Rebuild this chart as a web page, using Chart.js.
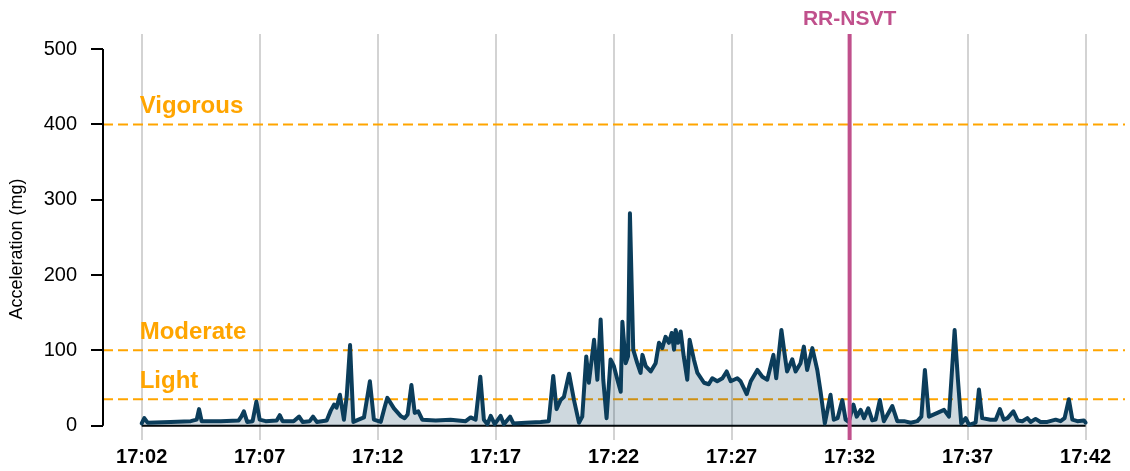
<!DOCTYPE html>
<html>
<head>
<meta charset="utf-8">
<script src="https://cdn.jsdelivr.net/npm/chart.js@4.4.0/dist/chart.umd.min.js"></script>
<style>
  html, body { margin: 0; padding: 0; background: #fff; }
  #wrap { width: 1130px; height: 471px; }
</style>
</head>
<body>
<div id="wrap"><canvas id="myChart" width="1130" height="471"></canvas></div>
<script>
// minutes after 17:02
var minutes = [
  0.00, 0.11, 0.25, 1.23, 2.08, 2.33, 2.43, 2.54, 3.35, 4.11, 4.22, 4.33, 4.47, 4.70, 4.86, 5.00,
  5.25, 5.72, 5.85, 5.97, 6.44, 6.67, 6.82, 7.12, 7.26, 7.42, 7.84, 8.01, 8.15, 8.26, 8.40, 8.57,
  8.69, 8.83, 8.97, 9.19, 9.42, 9.67, 9.84, 10.13, 10.30, 10.41, 10.55, 10.69, 10.97, 11.14, 11.27, 11.43,
  11.57, 11.72, 11.89, 12.46, 13.09, 13.73, 13.94, 14.15, 14.35, 14.50, 14.65, 14.79, 14.96, 15.21,
  15.35, 15.61, 15.75, 16.27, 16.91, 17.25, 17.44, 17.58, 17.75, 17.89, 18.11, 18.32, 18.53, 18.67,
  18.84, 18.95, 19.17, 19.31, 19.45, 19.56, 19.70, 19.87, 20.01, 20.16, 20.30, 20.37, 20.51, 20.61,
  20.69, 20.83, 21.00, 21.14, 21.22, 21.36, 21.57, 21.78, 21.92, 22.06, 22.20, 22.34, 22.46, 22.56,
  22.63, 22.73, 22.84, 22.97, 23.12, 23.22, 23.40, 23.55, 23.83, 24.03, 24.18, 24.39, 24.61, 24.79,
  24.96, 25.24, 25.38, 25.64, 25.81, 26.09, 26.30, 26.51, 26.77, 26.89, 27.11, 27.25, 27.35, 27.57,
  27.71, 27.92, 28.06, 28.20, 28.42, 28.63, 28.77, 28.95, 29.19, 29.33, 29.49, 29.69, 29.83, 29.96,
  30.16, 30.30, 30.47, 30.61, 30.79, 30.96, 31.10, 31.28, 31.45, 31.81, 32.02, 32.31, 32.59, 32.87,
  33.04, 33.19, 33.36, 33.72, 34.00, 34.21, 34.45, 34.59, 34.73, 34.92, 35.06, 35.34, 35.48, 35.62,
  35.97, 36.19, 36.37, 36.53, 36.69, 36.94, 37.12, 37.32, 37.53, 37.67, 37.88, 38.09, 38.38, 38.73,
  38.94, 39.11, 39.29, 39.44, 39.65, 39.93, 40.00
];
var accel = [
  3, 10, 4, 5, 6, 8, 22, 6, 6, 7, 12, 19, 5, 6, 32, 8,
  6, 7, 14, 6, 6, 12, 5, 6, 12, 5, 7, 20, 28, 24, 41, 8,
  40, 107, 5, 8, 11, 59, 8, 5, 25, 37, 30, 23, 13, 10, 15, 54,
  17, 19, 8, 7, 8, 6, 11, 8, 65, 8, 2, 13, 2, 13,
  2, 12, 3, 4, 5, 6, 66, 22, 34, 38, 69, 34, 4, 12,
  92, 57, 114, 61, 141, 61, 10, 88, 79, 61, 45, 138, 83, 92,
  282, 101, 83, 70, 94, 79, 72, 83, 110, 103, 118, 110, 123, 101,
  127, 110, 125, 92, 61, 114, 88, 70, 57, 55, 63, 59, 63, 72,
  59, 63, 59, 42, 59, 74, 65, 61, 94, 63, 127, 94, 72, 88,
  72, 83, 105, 74, 103, 74, 45, 3, 41, 8, 10, 34, 8, 5,
  28, 12, 21, 10, 23, 7, 8, 34, 6, 26, 6, 6, 4, 6,
  12, 74, 12, 17, 21, 12, 127, 61, 3, 10, 1, 4, 48, 10,
  8, 8, 22, 8, 10, 19, 7, 6, 10, 5, 9, 5, 5, 8,
  6, 10, 35, 8, 6, 7, 4
];
var xTicks = [0, 5, 10, 15, 20, 25, 30, 35, 40];
var yTicks = [0, 100, 200, 300, 400, 500];
var zoneNames = ['Vigorous', 'Moderate', 'Light'];
var zoneLimits = [400, 100, 35];
var eventName = 'RR-NSVT';
var eventMinute = 30;

var points = minutes.map(function (m, i) { return { x: m, y: accel[i] }; });

function timeLabel(v) {
  var t = 2 + v;
  return '17:' + (t < 10 ? '0' + t : t);
}

var extras = {
  id: 'extras',
  beforeDatasetsDraw: function (chart) {
    var ctx = chart.ctx, a = chart.chartArea;
    var xs = chart.scales.x, ys = chart.scales.y;
    ctx.save();
    // threshold lines
    ctx.strokeStyle = '#FFA500';
    ctx.lineWidth = 2;
    ctx.setLineDash([10, 5]);
    zoneLimits.forEach(function (v) {
      var y = ys.getPixelForValue(v);
      ctx.beginPath();
      ctx.moveTo(a.left, y);
      ctx.lineTo(a.right, y);
      ctx.stroke();
    });
    ctx.setLineDash([]);
    // axis lines
    ctx.strokeStyle = '#000';
    ctx.lineWidth = 2;
    ctx.beginPath();
    ctx.moveTo(xs.getPixelForValue(0), ys.getPixelForValue(0));
    ctx.lineTo(xs.getPixelForValue(40), ys.getPixelForValue(0));
    ctx.stroke();
    ctx.beginPath();
    ctx.moveTo(a.left, ys.getPixelForValue(0));
    ctx.lineTo(a.left, ys.getPixelForValue(500));
    ctx.stroke();
    // zone labels
    ctx.fillStyle = '#FFA500';
    ctx.font = 'bold 24px "Liberation Sans", Arial, sans-serif';
    ctx.textAlign = 'left';
    ctx.textBaseline = 'alphabetic';
    zoneNames.forEach(function (n, i) {
      ctx.fillText(n, xs.getPixelForValue(0) - 2, ys.getPixelForValue(zoneLimits[i]) - 11);
    });
    // y title
    ctx.fillStyle = '#000';
    ctx.font = '18px "Liberation Sans", Arial, sans-serif';
    ctx.translate(17, 249);
    ctx.rotate(-Math.PI / 2);
    ctx.textAlign = 'center';
    ctx.textBaseline = 'middle';
    ctx.fillText('Acceleration (mg)', 0, 0);
    ctx.restore();
  },
  afterDatasetsDraw: function (chart) {
    var ctx = chart.ctx, a = chart.chartArea;
    var x = chart.scales.x.getPixelForValue(eventMinute);
    ctx.save();
    ctx.strokeStyle = '#C0508C';
    ctx.lineWidth = 4;
    ctx.beginPath();
    ctx.moveTo(x, a.top);
    ctx.lineTo(x, a.bottom);
    ctx.stroke();
    ctx.fillStyle = '#C0508C';
    ctx.font = 'bold 21px "Liberation Sans", Arial, sans-serif';
    ctx.textAlign = 'center';
    ctx.textBaseline = 'alphabetic';
    ctx.fillText(eventName, x, 25);
    ctx.restore();
  }
};

var ctx = document.getElementById('myChart').getContext('2d');
var accChart = new Chart(ctx, {
  type: 'line',
  data: {
    datasets: [{
      data: points,
      borderColor: '#0B3D5B',
      borderWidth: 4,
      borderJoinStyle: 'round',
      borderCapStyle: 'round',
      backgroundColor: 'rgba(11, 61, 92, 0.2)',
      fill: 'origin',
      pointRadius: 0,
      tension: 0
    }]
  },
  options: {
    responsive: false,
    animation: false,
    layout: { padding: { top: 34, right: 5, left: 0, bottom: 0 } },
    plugins: { legend: { display: false }, tooltip: { enabled: false } },
    scales: {
      x: {
        type: 'linear',
        min: -1.64,
        max: 41.67,
        afterBuildTicks: function (s) { s.ticks = xTicks.map(function (v) { return { value: v }; }); },
        afterFit: function (s) { s.height = 31; },
        grid: { color: '#D3D3D3', lineWidth: 2, drawTicks: false },
        border: { display: false },
        ticks: {
          padding: 5,
          color: '#000',
          font: { family: '"Liberation Sans", Arial, sans-serif', size: 20, weight: 'bold' },
          callback: function (v) { return timeLabel(v); }
        }
      },
      y: {
        min: -19,
        max: 520,
        afterBuildTicks: function (s) { s.ticks = yTicks.map(function (v) { return { value: v }; }); },
        afterFit: function (s) { s.width = 103; },
        grid: { drawOnChartArea: false, drawTicks: true, tickLength: 12, color: '#000', lineWidth: 2 },
        border: { display: false },
        ticks: {
          padding: 14,
          color: '#000',
          font: { family: '"Liberation Sans", Arial, sans-serif', size: 20 }
        }
      }
    }
  },
  plugins: [extras]
});
</script>
</body>
</html>
